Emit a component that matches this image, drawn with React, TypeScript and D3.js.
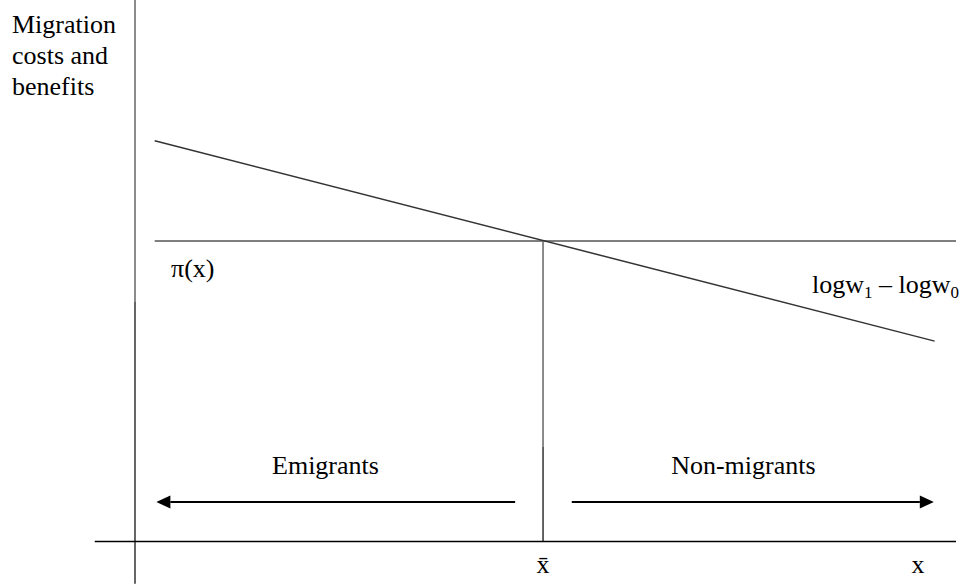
import React from 'react';
import * as d3 from 'd3';

// diagram values in abstract units (x: skill, y: costs and benefits)
const xDomain = [0, 100];
const yDomain = [0, 100];
const xAxisExtent = [-4.9, 100];
const yAxisExtent = [-7.8, 100];
const benefitLine = [
  { x: 2.4, y: 74 },
  { x: 97.4, y: 37 },
];
const piLevel = 55.5;
const piExtent = [2.4, 100];
const xBar = 49.7;
const arrowLevel = 7.3;
const emigrantsArrow = [46.3, 2.6];
const nonMigrantsArrow = [53.2, 97.3];
const yLabelLines = ['Migration', 'costs and', 'benefits'];
// label centres along the x axis
const emigrantsAt = 23.2;
const nonMigrantsAt = 74.1;

const width = 964;
const height = 584;
const font = "'Liberation Serif', 'DejaVu Serif', serif";

function Arrow({ from, to, y }: { from: number; to: number; y: number }) {
  const dir = Math.sign(to - from);
  const head = 14;
  const half = 6.5;
  return (
    <g>
      <line x1={from} y1={y} x2={to - dir * head} y2={y} stroke="#000" strokeWidth={2} />
      <path
        d={`M${to},${y} L${to - dir * head},${y - half} L${to - dir * head},${y + half} Z`}
        fill="#000"
      />
    </g>
  );
}

export default function App() {
  const x = d3.scaleLinear().domain(xDomain).range([135, 956]);
  const y = d3.scaleLinear().domain(yDomain).range([541.5, 0]);

  const line = d3
    .line<{ x: number; y: number }>()
    .x(d => x(d.x))
    .y(d => y(d.y));

  const ay = y(arrowLevel);

  return (
    <svg
      width={width}
      height={height}
      style={{ position: 'absolute', left: 0, top: 0, background: '#fff', fontFamily: font }}
    >
      {/* vertical axis */}
      <line x1={x(0)} y1={y(yAxisExtent[1])} x2={x(0)} y2={302} stroke="#666" strokeWidth={1.5} />
      <line x1={x(0)} y1={302} x2={x(0)} y2={y(yAxisExtent[0])} stroke="#333" strokeWidth={1.5} />
      {/* horizontal axis */}
      <line x1={x(xAxisExtent[0])} y1={y(0)} x2={x(xAxisExtent[1])} y2={y(0)} stroke="#000" strokeWidth={1.3} />

      {/* pi(x) cost line */}
      <line x1={x(piExtent[0])} y1={y(piLevel)} x2={x(piExtent[1])} y2={y(piLevel)} stroke="#555" strokeWidth={1.5} />
      {/* benefit line */}
      <path d={line(benefitLine) || ''} fill="none" stroke="#333" strokeWidth={1.5} />

      {/* threshold */}
      <line x1={x(xBar)} y1={y(piLevel)} x2={x(xBar)} y2={447} stroke="#666" strokeWidth={1.5} />
      <line x1={x(xBar)} y1={447} x2={x(xBar)} y2={y(0)} stroke="#111" strokeWidth={1.3} />

      <Arrow from={x(emigrantsArrow[0])} to={x(emigrantsArrow[1])} y={ay} />
      <Arrow from={x(nonMigrantsArrow[0])} to={x(nonMigrantsArrow[1])} y={ay} />

      <g fontSize={26} fill="#000" style={{ fontFamily: font }}>
        {yLabelLines.map((t, i) => (
          <text key={t} x={12} y={33 + i * 31}>
            {t}
          </text>
        ))}
        <text x={171} y={277}>π(x)</text>
        <text x={812} y={293}>
          logw<tspan fontSize={17} dy={5}>1</tspan>
          <tspan dy={-5}> – logw</tspan>
          <tspan fontSize={17} dy={5}>0</tspan>
        </text>
        <text x={x(emigrantsAt)} y={474} textAnchor="middle">Emigrants</text>
        <text x={x(nonMigrantsAt)} y={474} textAnchor="middle">Non-migrants</text>
        <text x={x(xBar)} y={573} textAnchor="middle">x̄</text>
        <text x={918} y={573} textAnchor="middle">x</text>
      </g>
    </svg>
  );
}
